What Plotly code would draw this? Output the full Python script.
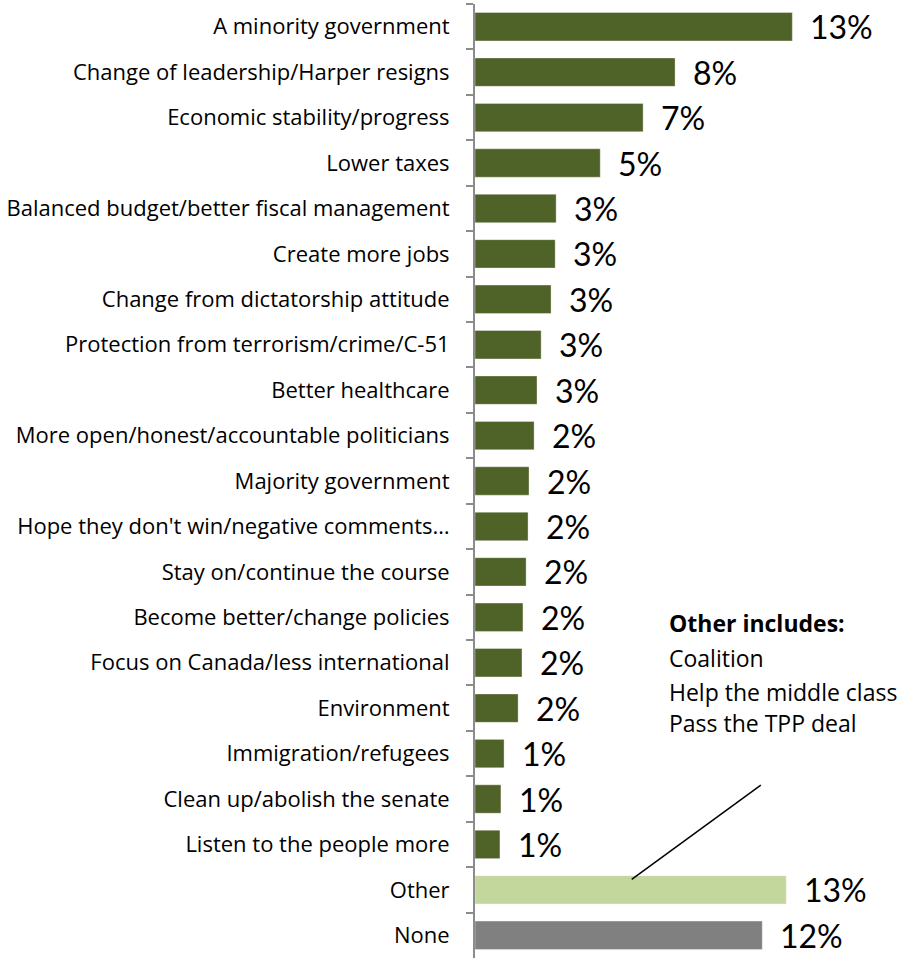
import plotly.graph_objects as go

categories = [
    "A minority government",
    "Change of leadership/Harper resigns",
    "Economic stability/progress",
    "Lower taxes",
    "Balanced budget/better fiscal management",
    "Create more jobs",
    "Change from dictatorship attitude",
    "Protection from terrorism/crime/C-51",
    "Better healthcare",
    "More open/honest/accountable politicians",
    "Majority government",
    "Hope they don't win/negative comments…",
    "Stay on/continue the course",
    "Become better/change policies",
    "Focus on Canada/less international",
    "Environment",
    "Immigration/refugees",
    "Clean up/abolish the senate",
    "Listen to the people more",
    "Other",
    "None",
]
values = [13.1, 8.26, 6.94, 5.17, 3.35, 3.31, 3.14, 2.73, 2.56, 2.44, 2.23, 2.19,
          2.11, 1.98, 1.94, 1.78, 1.2, 1.07, 1.03, 12.85, 11.86]
labels = [f"{round(v):d}%" for v in values]

other_lines = ["<b>Other includes:</b>", "Coalition", "Help the middle class", "Pass the TPP deal"]

DARK = "#4F6228"
LIGHT = "#C3D69B"
GRAY = "#808080"
colors = [DARK] * 19 + [LIGHT, GRAY]

FONT = "Open Sans"
NUMFONT = "Lato"

fig = go.Figure()
fig.add_trace(go.Bar(
    x=values, y=categories, orientation="h",
    marker=dict(color=colors, line=dict(color="rgba(255,255,255,0.35)", width=1)),
    hoverinfo="skip",
))

annotations = []
for v, c, t in zip(values, categories, labels):
    annotations.append(dict(x=v, y=c, xref="x", yref="y", text=t, showarrow=False,
                            xanchor="left", yanchor="middle", xshift=16,
                            font=dict(family=NUMFONT, size=32, color="#000000")))

ys = [0.351, 0.3145, 0.279, 0.2463]
for line, yy in zip(other_lines, ys):
    annotations.append(dict(x=0.447, y=yy, xref="paper", yref="paper", text=line,
                            showarrow=False, xanchor="left", yanchor="middle", xshift=-3,
                            font=dict(family=FONT, size=23, color="#000000")))

fig.add_shape(type="line", xref="x", yref="paper", x0=6.47, y0=0.0825, x1=11.8, y1=0.1813,
              line=dict(color="#000000", width=1.5))

fig.update_layout(
    width=914, height=959,
    margin=dict(l=475, r=3, t=4, b=1, autoexpand=False),
    paper_bgcolor="white", plot_bgcolor="white",
    bargap=0.375,
    showlegend=False,
    annotations=annotations,
    font=dict(family=FONT, size=22, color="#000000"),
)
fig.update_xaxes(visible=False, range=[0, 18])
fig.update_yaxes(autorange="reversed", type="category", tickson="boundaries",
                 ticks="outside", ticklen=7, tickwidth=2, tickcolor="#8C8C8C",
                 showline=True, linecolor="#8C8C8C", linewidth=2,
                 showgrid=False, ticklabelstandoff=19, automargin=False,
                 tickfont=dict(family=FONT, size=22, color="#000000"))

fig.write_html("out.html", config={"displayModeBar": False},
               post_script="document.body.style.margin='0';document.body.style.overflow='hidden';")
